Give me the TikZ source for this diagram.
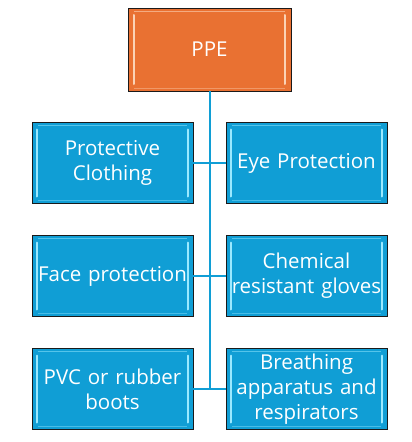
\documentclass[tikz,border=0pt]{standalone}
\usepackage{fontspec}
\setmainfont{Open Sans}
\definecolor{ppeorange}{HTML}{E97132}
\definecolor{ppeblue}{HTML}{109ED5}
\definecolor{bevelblue}{HTML}{9BE9FF}
\definecolor{bevelorange}{HTML}{FBD2B5}
\definecolor{edgedark}{HTML}{1A1A1A}
\tikzset{
  box/.style={draw=edgedark, line width=0.9pt, fill=#1, minimum width=161pt, minimum height=81pt,
    inner sep=0pt, text=white, align=center, text width=160pt,
    font=\fontsize{20.5}{25}\selectfont},
  bev/.style={line width=2pt, line cap=round},
  bevelb/.style={path picture={
     \draw[bev, bevelblue] ([xshift=5pt,yshift=-7pt]path picture bounding box.north west) -- ([xshift=5pt,yshift=7pt]path picture bounding box.south west);
     \draw[bev, bevelblue] ([xshift=-5pt,yshift=-7pt]path picture bounding box.north east) -- ([xshift=-5pt,yshift=7pt]path picture bounding box.south east);
     \draw[line width=1pt, bevelblue!50!ppeblue] ([xshift=6pt,yshift=-3pt]path picture bounding box.north west) -- ([xshift=-6pt,yshift=-3pt]path picture bounding box.north east);
     \draw[line width=1pt, bevelblue!40!ppeblue] ([xshift=6pt,yshift=3pt]path picture bounding box.south west) -- ([xshift=-6pt,yshift=3pt]path picture bounding box.south east);
  }},
  bevelo/.style={path picture={
     \draw[bev, bevelorange] ([xshift=6pt,yshift=-7pt]path picture bounding box.north west) -- ([xshift=6pt,yshift=7pt]path picture bounding box.south west);
     \draw[bev, bevelorange] ([xshift=-6pt,yshift=-7pt]path picture bounding box.north east) -- ([xshift=-6pt,yshift=7pt]path picture bounding box.south east);
     \draw[line width=1pt, bevelorange!60!ppeorange] ([xshift=6pt,yshift=-3pt]path picture bounding box.north west) -- ([xshift=-6pt,yshift=-3pt]path picture bounding box.north east);
     \draw[line width=1pt, bevelorange!40!ppeorange] ([xshift=6pt,yshift=3pt]path picture bounding box.south west) -- ([xshift=-6pt,yshift=3pt]path picture bounding box.south east);
  }},
  conn/.style={draw=ppeblue, line width=2pt}
}
\begin{document}
\begin{tikzpicture}[x=1pt,y=-1pt]
\useasboundingbox (0,0) rectangle (412,442);
\fill[white] (0,0) rectangle (412,442);
\node[box=ppeorange, bevelo, minimum width=163pt, minimum height=83pt] (ppe) at (209.5,49.5) {PPE};
\node[box=ppeblue, bevelb] (l1) at (112.5,163) {Protective\\Clothing};
\node[box=ppeblue, bevelb] (r1) at (306.5,163) {Eye Protection};
\node[box=ppeblue, bevelb] (l2) at (112.5,276) {Face protection};
\node[box=ppeblue, bevelb] (r2) at (306.5,276) {Chemical\\resistant gloves};
\node[box=ppeblue, bevelb] (l3) at (112.5,389) {PVC or rubber\\boots};
\node[box=ppeblue, bevelb] (r3) at (306.5,389) {Breathing\\apparatus and\\respirators};
\draw[conn] (ppe.south) -- (ppe.south |- l3.east);
\draw[conn] (l1.east) -- (r1.west);
\draw[conn] (l2.east) -- (r2.west);
\draw[conn] (l3.east) -- (r3.west);
\end{tikzpicture}
\end{document}
